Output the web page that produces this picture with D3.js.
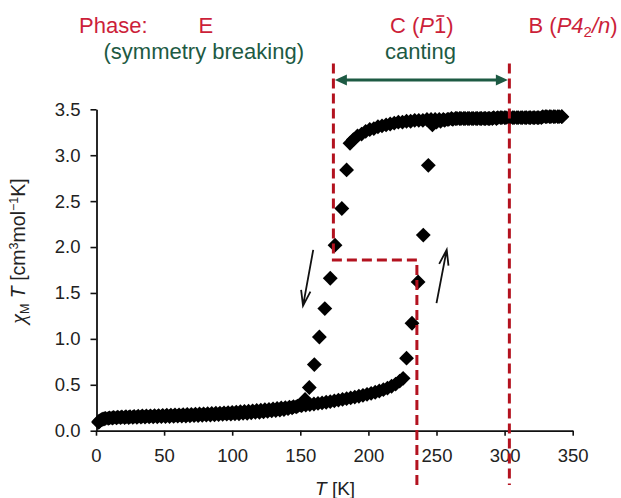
<!DOCTYPE html>
<html>
<head>
<meta charset="utf-8">
<script src="https://cdn.jsdelivr.net/npm/d3@7"></script>
<style>
    body { margin: 0; background: #fff; }
    svg text { font-family: "Liberation Sans", Arial, sans-serif; }
</style>
</head>
<body>
<svg id="chart" width="621" height="498"></svg>
<script>
// cooling run: high T plateau -> drop near 175 K -> low T branch
var coolingT = [342, 339, 336, 333, 330, 327, 324, 321, 318, 315, 312, 309, 306, 303, 300, 297,
    294, 291, 288, 285, 282, 279, 276, 273, 270, 267, 264, 261, 258, 255, 252, 249, 246, 243,
    240, 237, 234, 231, 228, 225, 222, 219, 216, 213, 210, 207, 204, 201, 198, 195, 192, 189, 186.5,
    184, 180.5, 175.5, 172, 168, 164, 160.3, 156.6, 153.5, 150,
    147, 144, 141, 138, 135, 132, 129, 126, 123, 120, 117, 114, 111, 108, 105, 102, 99, 96, 93, 90,
    87, 84, 81, 78, 75, 72, 69, 66, 63, 60, 57, 54, 51, 48, 45, 42, 39, 36, 33, 30,
    27, 24, 21, 18, 15, 12, 9, 6, 4, 2];
var coolingChi = [3.42, 3.42, 3.42, 3.42, 3.42, 3.41, 3.41, 3.41, 3.41, 3.41, 3.41, 3.41, 3.41, 3.41, 3.41, 3.41,
    3.40, 3.40, 3.40, 3.40, 3.40, 3.40, 3.40, 3.40, 3.40, 3.40, 3.40, 3.40, 3.39, 3.39, 3.39, 3.39, 3.39, 3.39,
    3.38, 3.38, 3.38, 3.37, 3.37, 3.36, 3.36, 3.35, 3.34, 3.33, 3.32, 3.31, 3.29, 3.28, 3.26, 3.23, 3.21, 3.17, 3.13,
    2.84, 2.42, 2.02, 1.66, 1.33, 1.02, 0.72, 0.47, 0.34, 0.28,
    0.26, 0.25, 0.24, 0.23, 0.225, 0.22, 0.215, 0.21, 0.205, 0.20, 0.20, 0.195, 0.19, 0.19, 0.185, 0.185, 0.18, 0.18, 0.178, 0.175,
    0.173, 0.17, 0.17, 0.168, 0.165, 0.165, 0.162, 0.16, 0.16, 0.158, 0.157, 0.155, 0.155, 0.153, 0.152, 0.15, 0.15, 0.148, 0.147, 0.146,
    0.145, 0.144, 0.143, 0.142, 0.14, 0.138, 0.135, 0.13, 0.12, 0.10];

// heating run: low T branch -> rise near 236 K -> plateau
var heatingT = [2, 3, 5, 7, 10,
    13, 16, 19, 22, 25, 28, 31, 34, 37, 40,
    43, 46, 49, 52, 55, 58, 61, 64, 67, 70,
    73, 76, 79, 82, 85, 88, 91, 94, 97, 100,
    103, 106, 109, 112, 115, 118, 121, 124, 127, 130,
    133, 136, 139, 142, 145, 148, 151, 154, 157, 160,
    163, 166, 169, 172, 175, 178, 181, 184, 187, 190,
    193, 196, 199, 202, 205, 208, 211, 214, 217, 220,
    223, 225.5,
    228, 232, 236.5, 240.3, 244, 247,
    250, 253, 256, 259, 262, 265, 268, 271, 274, 277, 280, 283, 286, 289, 292, 295,
    298, 301, 304, 307, 310, 313, 316, 319, 322, 325, 328, 331, 334, 337, 340, 342];
var heatingChi = [0.09, 0.11, 0.125, 0.135, 0.14,
    0.145, 0.148, 0.15, 0.152, 0.154, 0.156, 0.158, 0.16, 0.161, 0.162,
    0.164, 0.165, 0.167, 0.168, 0.17, 0.171, 0.173, 0.175, 0.176, 0.178,
    0.18, 0.182, 0.184, 0.186, 0.188, 0.19, 0.192, 0.195, 0.197, 0.20,
    0.203, 0.206, 0.209, 0.212, 0.216, 0.22, 0.224, 0.228, 0.232, 0.237,
    0.242, 0.247, 0.252, 0.257, 0.262, 0.267, 0.273, 0.279, 0.285, 0.291,
    0.297, 0.303, 0.31, 0.317, 0.325, 0.333, 0.341, 0.349, 0.357, 0.366,
    0.375, 0.385, 0.396, 0.407, 0.419, 0.432, 0.447, 0.464, 0.484, 0.508,
    0.54, 0.57,
    0.79, 1.17, 1.62, 2.13, 2.89, 3.33,
    3.36, 3.37, 3.38, 3.39, 3.39, 3.40, 3.40, 3.40, 3.40, 3.40, 3.40, 3.40, 3.40, 3.40, 3.41, 3.41,
    3.41, 3.41, 3.41, 3.41, 3.41, 3.41, 3.41, 3.41, 3.41, 3.41, 3.42, 3.42, 3.42, 3.42, 3.42, 3.42];

var xTicks = [0, 50, 100, 150, 200, 250, 300, 350];
var yTicks = [0, 0.5, 1.0, 1.5, 2.0, 2.5, 3.0, 3.5];

// phase boundaries [K], step of the guide, and guide extent (data units)
var phaseBounds = [174.3, 235.6, 303.5];
var stepChi = 1.86;
var guideTop = 4.0;
var guideBottom = -0.59;
var cantingChi = 3.82;

// hand drawn hysteresis arrows [T, chi] from -> to (head at "to")
var sweepArrows = [
    [[159.5, 1.97], [152.0, 1.36]],
    [[250.0, 1.39], [257.5, 1.97]]
];

var red = "#cc1f3a", lineRed = "#b3121f", green = "#1d5a43";

var svg = d3.select("#chart");
var x = d3.scaleLinear().domain([0, 350]).range([96, 572.7]);
var y = d3.scaleLinear().domain([0, 3.5]).range([430.7, 109.3]);

// axes
var xAxis = d3.axisBottom(x).tickValues(xTicks).tickFormat(d3.format("d"))
    .tickSize(5).tickSizeOuter(0).tickPadding(13);
var yAxis = d3.axisLeft(y).tickValues(yTicks).tickFormat(d3.format(".1f"))
    .tickSize(6).tickSizeOuter(0).tickPadding(10);

var gx = svg.append("g").attr("transform", "translate(0," + y(0) + ")").call(xAxis);
var gy = svg.append("g").attr("transform", "translate(" + (x(0) + 0.5) + ",0)").call(yAxis);
[gx, gy].forEach(function (g) {
    g.attr("font-family", null).attr("font-size", null);
    g.select(".domain").attr("stroke", "#111").attr("stroke-width", 1.8);
    g.selectAll(".tick line").attr("stroke", "#111").attr("stroke-width", 1.6);
    g.selectAll(".tick text").attr("fill", "#222").style("font-size", "18.5px");
});

// data points
var points = coolingT.map(function (t, i) { return {t: t, chi: coolingChi[i]}; })
    .concat(heatingT.map(function (t, i) { return {t: t, chi: heatingChi[i]}; }));
var diamond = d3.symbol().type(d3.symbolSquare).size(110);
svg.append("g").selectAll("path").data(points).join("path")
    .attr("d", diamond)
    .attr("transform", function (d) { return "translate(" + x(d.t) + "," + y(d.chi) + ") rotate(45)"; })
    .attr("fill", "#000");

// hand drawn arrows
svg.append("g").selectAll("path").data(sweepArrows).join("path")
    .attr("d", function (a) {
        var x0 = x(a[0][0]), y0 = y(a[0][1]), x1 = x(a[1][0]), y1 = y(a[1][1]);
        var ang = Math.atan2(y1 - y0, x1 - x0), len = 16, spread = 0.3;
        var p = d3.path();
        p.moveTo(x0, y0); p.lineTo(x1, y1);
        p.moveTo(x1 - len * Math.cos(ang - spread), y1 - len * Math.sin(ang - spread));
        p.lineTo(x1, y1);
        p.lineTo(x1 - len * Math.cos(ang + spread), y1 - len * Math.sin(ang + spread));
        return p.toString();
    })
    .attr("fill", "none").attr("stroke", "#111").attr("stroke-width", 1.8);

// red phase guides
var guide = d3.line().x(function (d) { return x(d[0]); }).y(function (d) { return y(d[1]); });
var guides = [
    [[phaseBounds[0], guideTop], [phaseBounds[0], stepChi], [phaseBounds[1], stepChi], [phaseBounds[1], guideBottom]],
    [[phaseBounds[2], guideTop], [phaseBounds[2], guideBottom]]
];
svg.append("g").selectAll("path").data(guides).join("path")
    .attr("d", guide)
    .attr("fill", "none").attr("stroke", lineRed).attr("stroke-width", 3)
    .attr("stroke-dasharray", "10,5");

// canting double arrow
var ax0 = x(phaseBounds[0]) + 1.5, ax1 = x(phaseBounds[2]) - 1.5, ay = y(cantingChi), head = 12, hw = 5.5;
var ga = svg.append("g").attr("fill", green);
ga.append("line").attr("x1", ax0 + head - 1).attr("x2", ax1 - head + 1).attr("y1", ay).attr("y2", ay)
    .attr("stroke", green).attr("stroke-width", 3);
ga.append("path").attr("d", "M" + ax0 + "," + ay + "L" + (ax0 + head) + "," + (ay - hw) + "L" + (ax0 + head) + "," + (ay + hw) + "Z");
ga.append("path").attr("d", "M" + ax1 + "," + ay + "L" + (ax1 - head) + "," + (ay - hw) + "L" + (ax1 - head) + "," + (ay + hw) + "Z");

// phase labels
var lab = svg.append("g").style("font-size", "22px");
lab.append("text").attr("x", 79).attr("y", 33).attr("fill", red).text("Phase:");
lab.append("text").attr("x", 198.5).attr("y", 33).attr("fill", red).text("E");
lab.append("text").attr("x", 103.5).attr("y", 58.5).attr("fill", green).text("(symmetry breaking)");
lab.append("text").attr("x", 385).attr("y", 58.5).attr("fill", green).text("canting");

var cText = lab.append("text").attr("x", 390).attr("y", 33).attr("fill", red);
cText.append("tspan").text("C (");
cText.append("tspan").style("font-style", "italic").text("P");
cText.append("tspan").text("1");
cText.append("tspan").text(")");
var one = cText.node().getExtentOfChar(4);
lab.append("line")
    .attr("x1", one.x + 2.5).attr("x2", one.x + one.width - 2)
    .attr("y1", 16).attr("y2", 16)
    .attr("stroke", red).attr("stroke-width", 1.6);

var bText = lab.append("text").attr("x", 528.5).attr("y", 33).attr("fill", red);
bText.append("tspan").text("B (");
bText.append("tspan").style("font-style", "italic").text("P");
bText.append("tspan").style("font-style", "italic").text("4");
bText.append("tspan").attr("dy", 4).style("font-size", "15px").text("2");
bText.append("tspan").attr("dy", -4).style("font-style", "italic").text("/n");
bText.append("tspan").text(")");

// axis titles
var yl = svg.append("text").attr("transform", "translate(25,251) rotate(-90)")
    .attr("text-anchor", "middle").attr("fill", "#222").style("font-size", "19.5px");
yl.append("tspan").style("font-family", "'Liberation Serif', serif").style("font-style", "italic")
    .style("font-size", "22px").text("\u03C7");
yl.append("tspan").attr("dy", 4).style("font-size", "12.5px").text("M");
yl.append("tspan").attr("dy", -4).text(" ");
yl.append("tspan").style("font-style", "italic").text("T");
yl.append("tspan").text(" [cm");
yl.append("tspan").attr("dy", -7).style("font-size", "12.5px").text("3");
yl.append("tspan").attr("dy", 7).text("mol");
yl.append("tspan").attr("dy", -7).style("font-size", "12.5px").text("\u22121");
yl.append("tspan").attr("dy", 7).text("K]");

var xl = svg.append("text").attr("x", 315).attr("y", 495).attr("fill", "#222").style("font-size", "19px");
xl.append("tspan").style("font-style", "italic").text("T");
xl.append("tspan").text(" [K]");
</script>
</body>
</html>
